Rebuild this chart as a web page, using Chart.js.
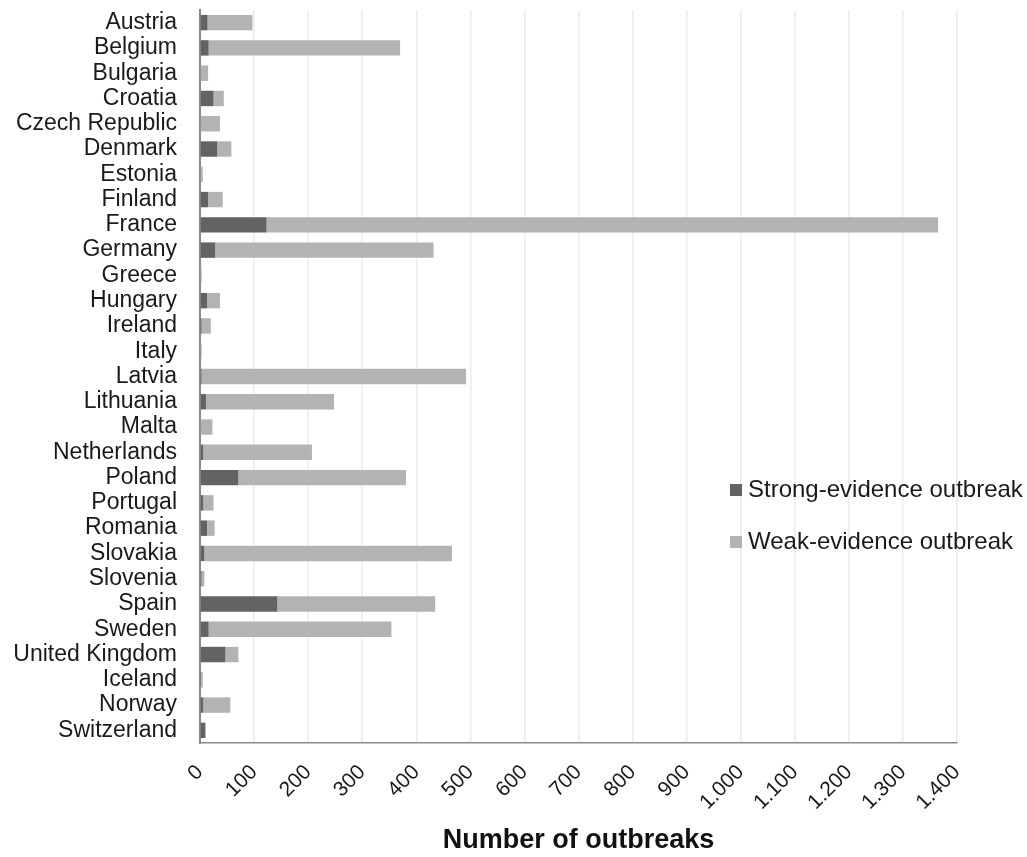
<!DOCTYPE html>
<html>
<head>
<meta charset="utf-8">
<script src="https://cdn.jsdelivr.net/npm/chart.js"></script>
<style>
  html, body { margin: 0; padding: 0; background: #fff; }
  #wrap { width: 1027px; height: 857px; }
</style>
</head>
<body>
<div id="wrap"><canvas id="outbreakChart"></canvas></div>
<script>
const countries = [
  "Austria", "Belgium", "Bulgaria", "Croatia", "Czech Republic", "Denmark", "Estonia",
  "Finland", "France", "Germany", "Greece", "Hungary", "Ireland", "Italy", "Latvia",
  "Lithuania", "Malta", "Netherlands", "Poland", "Portugal", "Romania", "Slovakia",
  "Slovenia", "Spain", "Sweden", "United Kingdom", "Iceland", "Norway", "Switzerland"
];
const strongEvidence = [14, 16, 0, 25, 0, 32, 0, 15, 123, 28, 0, 13, 3, 0, 3, 11, 0, 6, 71, 6, 13, 8, 3, 143, 16, 47, 2, 6, 10];
const weakEvidence = [83, 354, 15, 19, 37, 26, 5, 27, 1242, 404, 3, 24, 17, 3, 489, 237, 23, 201, 310, 19, 14, 458, 5, 292, 338, 24, 3, 50, 0];
const xMax = 1400;
const xStep = 100;

const labelFont = "'Liberation Sans', Arial, sans-serif";

// legend drawn inside the plot, right side
const sideLegend = {
  id: "sideLegend",
  afterDraw(chart) {
    const ctx = chart.ctx;
    ctx.save();
    ctx.font = "24px " + labelFont;
    ctx.textBaseline = "middle";
    chart.data.datasets.forEach((ds, i) => {
      const y = 490 + i * 52;
      ctx.fillStyle = ds.backgroundColor;
      ctx.fillRect(730, y - 6, 12, 12);
      ctx.fillStyle = "#1a1a1a";
      ctx.fillText(ds.label, 748, y);
    });
    ctx.restore();
  }
};

const outbreakChart = new Chart(document.getElementById("outbreakChart"), {
  type: "bar",
  data: {
    labels: countries,
    datasets: [{
      label: "Strong-evidence outbreak",
      data: strongEvidence,
      backgroundColor: "#636363",
      barPercentage: 0.61,
      categoryPercentage: 1
    }, {
      label: "Weak-evidence outbreak",
      data: weakEvidence,
      backgroundColor: "#b3b3b3",
      barPercentage: 0.61,
      categoryPercentage: 1
    }]
  },
  options: {
    indexAxis: "y",
    responsive: true,
    maintainAspectRatio: false,
    animation: false,
    layout: { padding: { top: 10, right: 70, left: 0, bottom: 0 } },
    plugins: {
      legend: { display: false },
      tooltip: { enabled: false }
    },
    scales: {
      x: {
        stacked: true,
        min: 0,
        max: xMax,
        grid: { color: "#ececec", lineWidth: 1.5, drawTicks: false },
        border: { color: "#8a8a8a", width: 1.5 },
        ticks: {
          stepSize: xStep,
          minRotation: 45,
          maxRotation: 45,
          padding: 17,
          color: "#1a1a1a",
          font: { family: labelFont, size: 21 },
          callback: v => String(v).replace(/\B(?=(\d{3})+(?!\d))/g, ".")
        },
        title: {
          display: true,
          text: "Number of outbreaks",
          color: "#111",
          font: { family: labelFont, size: 27, weight: "bold" },
          padding: { top: 0, bottom: 0 }
        },
        afterFit: scale => { scale.height = 114; }
      },
      y: {
        stacked: true,
        grid: { display: false, drawTicks: false },
        border: { color: "#8a8a8a", width: 2 },
        ticks: {
          padding: 23,
          color: "#1a1a1a",
          font: { family: labelFont, size: 23 },
          autoSkip: false
        },
        afterFit: scale => {
          scale.width = 200;
          scale.paddingTop = 0;
          scale.paddingBottom = 0;
        }
      }
    }
  },
  plugins: [sideLegend]
});
</script>
</body>
</html>
